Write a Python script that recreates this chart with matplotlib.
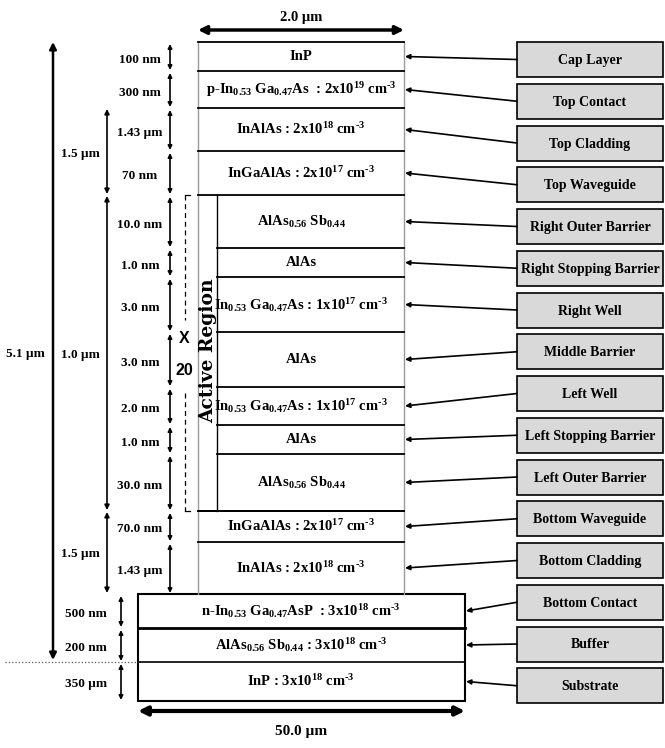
import numpy as np
import matplotlib
matplotlib.use('Agg')
import matplotlib.pyplot as plt
from matplotlib.patches import Rectangle

# шрифты: Times-подобный жирный
plt.rcParams['font.family'] = ['Liberation Serif', 'DejaVu Serif']
plt.rcParams['font.weight'] = 'bold'
plt.rcParams['mathtext.fontset'] = 'custom'
plt.rcParams['mathtext.rm'] = 'Liberation Serif:bold'
plt.rcParams['mathtext.it'] = 'Liberation Serif:bold'
plt.rcParams['mathtext.bf'] = 'Liberation Serif:bold'

# ---- данные: слои сверху вниз ----
layer_text = [
    'InP',
    r'p-In$_{0.53}$ Ga$_{0.47}$As  : 2x10$^{19}$ cm$^{‐3}$',
    r'InAlAs : 2x10$^{18}$ cm$^{‐3}$',
    r'InGaAlAs : 2x10$^{17}$ cm$^{‐3}$',
    r'AlAs$_{0.56}$ Sb$_{0.44}$',
    'AlAs',
    r'In$_{0.53}$ Ga$_{0.47}$As : 1x10$^{17}$ cm$^{‐3}$',
    'AlAs',
    r'In$_{0.53}$ Ga$_{0.47}$As : 1x10$^{17}$ cm$^{‐3}$',
    'AlAs',
    r'AlAs$_{0.56}$ Sb$_{0.44}$',
    r'InGaAlAs : 2x10$^{17}$ cm$^{‐3}$',
    r'InAlAs : 2x10$^{18}$ cm$^{‐3}$',
    r'n-In$_{0.53}$ Ga$_{0.47}$AsP  : 3x10$^{18}$ cm$^{‐3}$',
    r'AlAs$_{0.56}$ Sb$_{0.44}$ : 3x10$^{18}$ cm$^{‐3}$',
    r'InP : 3x10$^{18}$ cm$^{‐3}$',
]
thickness = ['100 nm', '300 nm', '1.43 µm', '70 nm', '10.0 nm', '1.0 nm', '3.0 nm',
             '3.0 nm', '2.0 nm', '1.0 nm', '30.0 nm', '70.0 nm', '1.43 µm',
             '500 nm', '200 nm', '350 µm']
layer_names = ['Cap Layer', 'Top Contact', 'Top Cladding', 'Top Waveguide',
               'Right Outer Barrier', 'Right Stopping Barrier', 'Right Well',
               'Middle Barrier', 'Left Well', 'Left Stopping Barrier',
               'Left Outer Barrier', 'Bottom Waveguide', 'Bottom Cladding',
               'Bottom Contact', 'Buffer', 'Substrate']
group_labels = ['1.5 µm', '1.0 µm', '1.5 µm']
group_layers = [(2, 3), (4, 10), (11, 12)]  # первый и последний слой группы
total_label = '5.1 µm'
repeat_label = ['X', '20']
top_width = '2.0 µm'
bottom_width = '50.0 µm'

# ---- разметка (пиксели схемы) ----
row_px = [29, 37, 43, 44, 53, 29, 55, 55, 38, 29, 57, 31, 52, 34, 34, 39]
y_top = 42
edges = y_top + np.concatenate([[0], np.cumsum(row_px)])
centers = (edges[:-1] + edges[1:]) / 2
X0, X1 = 198, 404          # верхний стек
B0, B1 = 138, 465          # нижний стек
XA = 217                   # внутренняя граница активной области
N_UP = 13                  # слоёв в узком стеке
ACT = (4, 10)

fig = plt.figure(figsize=(6.65, 7.48), dpi=100)
ax = fig.add_axes([0, 0, 1, 1])
ax.set_xlim(0, 665)
ax.set_ylim(748, 0)
ax.axis('off')


def dbl_arrow(x0, y0, x1, y1, lw=1.2, ms=7):
    ax.annotate('', xy=(x1, y1), xytext=(x0, y0),
                arrowprops=dict(arrowstyle='<|-|>', lw=lw, color='black',
                                mutation_scale=ms, shrinkA=0, shrinkB=0))


# узкий стек
ax.plot([X0, X0], [edges[0], edges[N_UP]], color='#9a9a9a', lw=1)
ax.plot([X1, X1], [edges[0], edges[N_UP]], color='#9a9a9a', lw=1)
for i in range(N_UP):
    e = edges[i]
    left = XA if ACT[0] < i <= ACT[1] else X0
    ax.plot([left, X1], [e, e], color='black', lw=1.3)
ax.plot([X0, X1], [edges[ACT[1] + 1]] * 2, color='black', lw=1.3)
ax.plot([XA, XA], [edges[ACT[0]], edges[ACT[1] + 1]], color='black', lw=1)
ax.text((X0 + XA) / 2 + 0.5, (edges[ACT[0]] + edges[ACT[1] + 1]) / 2 - 2,
        'Active Region', rotation=90, ha='center', va='center',
        fontsize=13.5, family=['DejaVu Serif'])

# широкий стек
ax.add_patch(Rectangle((B0, edges[N_UP]), B1 - B0, edges[-1] - edges[N_UP],
                       fill=False, edgecolor='black', lw=1.5))
ax.plot([B0, B1], [edges[N_UP + 1]] * 2, color='black', lw=2)
ax.plot([B0, B1], [edges[N_UP + 2]] * 2, color='black', lw=1.2)

# тексты слоёв
for i, t in enumerate(layer_text):
    ax.text(301, centers[i], t, ha='center', va='center', fontsize=10.5)

# толщины слева
for i, t in enumerate(thickness):
    if i < N_UP:
        tx, ax_x = 140, 170
    else:
        tx, ax_x = 86, 121
    ax.text(tx, centers[i] + 3, t, ha='center', va='center', fontsize=9.5)
    dbl_arrow(ax_x, edges[i] + 2, ax_x, edges[i + 1] - 1, lw=1.2, ms=6)

# группы
for lab, (a, b) in zip(group_labels, group_layers):
    dbl_arrow(107, edges[a] + 1, 107, edges[b + 1] - 1, lw=1.2, ms=7)
    ax.text(80, (edges[a] + edges[b + 1]) / 2 + 2, lab, ha='center',
            va='center', fontsize=9.5)
dbl_arrow(53, edges[0], 53, edges[N_UP + 2] - 2, lw=1.8, ms=10)
ax.text(25, (edges[0] + edges[N_UP + 2]) / 2 + 2, total_label, ha='center',
        va='center', fontsize=9.5)
ax.plot([5, B0], [edges[N_UP + 2]] * 2, color='#555555', lw=0.9, ls=':')

# повтор x20 (пунктирная скобка)
ya, yb = edges[ACT[0]], edges[ACT[1] + 1]
ax.plot([185, 185], [ya, 320], color='black', lw=0.9, ls=(0, (4, 3)))
ax.plot([185, 185], [393, yb], color='black', lw=0.9, ls=(0, (4, 3)))
ax.plot([185, 190], [ya, ya], color='black', lw=0.9)
ax.plot([185, 190], [yb, yb], color='black', lw=0.9)
ax.text(184, 338, repeat_label[0], ha='center', va='center', fontsize=11.5,
        family=['Liberation Sans'])
ax.text(184, 370, repeat_label[1], ha='center', va='center', fontsize=11.5,
        family=['Liberation Sans'])

# ширины
dbl_arrow(X0, 30, X1, 30, lw=2.5, ms=12)
ax.text(301, 17, top_width, ha='center', va='center', fontsize=10.5)
dbl_arrow(B0, 711, B1, 711, lw=3, ms=13)
ax.text(301, 732, bottom_width, ha='center', va='center', fontsize=11)

# подписи справа
BX0, BX1, BH, B_PITCH = 517, 663, 35, 41.75
for i, name in enumerate(layer_names):
    top = 42 + B_PITCH * i
    ax.add_patch(Rectangle((BX0, top), BX1 - BX0, BH, facecolor='#d9d9d9',
                           edgecolor='black', lw=1.2))
    cy = top + BH / 2
    ax.text((BX0 + BX1) / 2, cy + 1, name, ha='center', va='center', fontsize=10)
    xr = X1 if i < N_UP else B1
    ax.annotate('', xy=(xr + 1, centers[i]), xytext=(BX0, cy),
                arrowprops=dict(arrowstyle='-|>', lw=1.2, color='black',
                                mutation_scale=7, shrinkA=0, shrinkB=0))

fig.savefig('out.png', dpi=100)
